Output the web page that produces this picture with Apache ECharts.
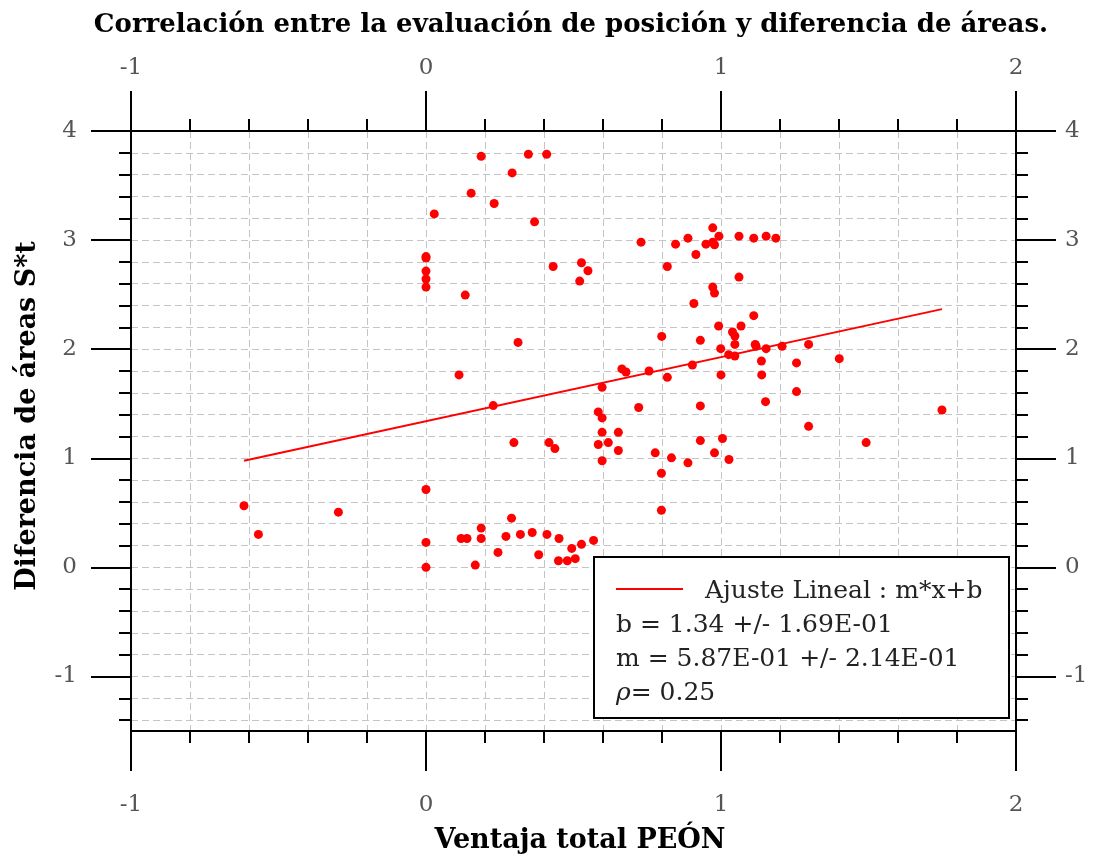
<!DOCTYPE html>
<html>
<head>
<meta charset="utf-8">
<script src="https://cdn.jsdelivr.net/npm/echarts@6/dist/echarts.min.js"></script>
<style>html,body{margin:0;padding:0;background:#fff}#c{width:1096px;height:857px}</style>
</head>
<body>
<div id="c"></div>
<script>
const titleText = 'Correlación entre la evaluación de posición y diferencia de áreas.';
const xName = 'Ventaja total PEÓN';
const yName = 'Diferencia de áreas S*t';

const xValues = [
  0.187, 0.347, 0.409, 0.292, 0.153, 0.231, 0.028, 0.368, 0, 0,
  0, 0, 0, 0.133, 0.431, 0.527, 0.549, 0.521, 0.312, 0.729,
  0.846, 0.888, 0.972, 0.993, 0.949, 0.972, 0.978, 0.915, 1.061, 1.111,
  1.153, 1.186, 0.818, 1.061, 0.972, 0.978, 0.908, 1.111, 0.992, 1.039,
  1.047, 1.068, 1.047, 1.116, 1.119, 1.153, 1.207, 1.297, 0.799, 0.930,
  0.999, 1.026, 1.047, 1.137, 1.256, 1.401, 1.749, 0.903, 0.756, 0.664,
  0.678, 0.597, 0.818, 1.000, 1.138, 1.256, 1.151, 1.297, 1.492, 0.930,
  0.721, 0.584, 0.597, 0.597, 0.652, 0.618, 0.584, 0.652, 0.777, 0.930,
  1.005, 0.978, 0.832, 1.027, 0.888, 0.597, 0.798, 0.798, -0.617, -0.568,
  -0.297, 0, 0, 0, 0.112, 0.228, 0.298, 0.417, 0.437, 0.290,
  0.187, 0.119, 0.139, 0.187, 0.271, 0.320, 0.360, 0.410, 0.451, 0.244,
  0.167, 0.382, 0.449, 0.479, 0.506, 0.494, 0.527, 0.568
];
const yValues = [
  3.768, 3.787, 3.787, 3.616, 3.430, 3.335, 3.240, 3.167, 2.849, 2.835,
  2.716, 2.643, 2.569, 2.496, 2.758, 2.792, 2.719, 2.624, 2.062, 2.981,
  2.963, 3.018, 3.112, 3.036, 2.963, 2.981, 2.957, 2.868, 3.036, 3.018,
  3.036, 3.018, 2.758, 2.661, 2.569, 2.514, 2.419, 2.307, 2.212, 2.157,
  2.121, 2.212, 2.044, 2.044, 2.026, 2.005, 2.026, 2.044, 2.117, 2.081,
  2.005, 1.950, 1.938, 1.892, 1.874, 1.913, 1.443, 1.855, 1.800, 1.819,
  1.791, 1.650, 1.742, 1.764, 1.764, 1.611, 1.519, 1.293, 1.144, 1.480,
  1.465, 1.425, 1.370, 1.238, 1.238, 1.144, 1.126, 1.071, 1.050, 1.162,
  1.181, 1.050, 1.004, 0.989, 0.958, 0.977, 0.863, 0.524, 0.565, 0.302,
  0.506, 0.714, 0.229, 0, 1.764, 1.483, 1.144, 1.144, 1.089, 0.451,
  0.360, 0.265, 0.265, 0.265, 0.284, 0.302, 0.320, 0.302, 0.265, 0.137,
  0.021, 0.116, 0.061, 0.061, 0.080, 0.174, 0.211, 0.247
];

const fitX = [-0.617, 1.749];
const fitY = [0.978, 2.367];

const xMin = -1, xMax = 2;
const yMin = -1.5, yMax = 4;
const yMajorTicks = [-1, 0, 1, 2, 3, 4];
const yMinorTicks = [-1.4, -1.2, -1, -0.8, -0.6, -0.4, -0.2, 0, 0.2, 0.4, 0.6, 0.8, 1, 1.2, 1.4, 1.6, 1.8, 2, 2.2, 2.4, 2.6, 2.8, 3, 3.2, 3.4, 3.6, 3.8, 4];

const legendTitle = 'Ajuste Lineal : m*x+b';
const legendLines = ['b = 1.34 +/- 1.69E-01', 'm = 5.87E-01 +/- 2.14E-01'];
const rhoText = '= 0.25';

const scatterData = xValues.map((x, i) => [x, yValues[i]]);
const fitData = fitX.map((x, i) => [x, fitY[i]]);

const serif = 'DejaVu Serif';
const tickLabelStyle = { fontFamily: serif, fontSize: 23, color: '#555' };
const gridLine = { show: true, lineStyle: { color: '#c4c4c4', width: 1, type: [7, 4] } };
const axisLineStyle = { show: true, onZero: false, lineStyle: { color: '#000', width: 2 } };

function xAxisDef(pos, showSplit) {
  return {
    type: 'value', position: pos, min: xMin, max: xMax, interval: 1,
    axisLine: axisLineStyle,
    axisTick: { show: true, inside: false, length: 40, lineStyle: { color: '#000', width: 2 } },
    minorTick: { show: true, splitNumber: 5, length: 12, lineStyle: { color: '#000', width: 2 } },
    axisLabel: Object.assign({ show: true, margin: pos === 'bottom' ? 63 : 51 }, tickLabelStyle),
    splitLine: showSplit ? gridLine : { show: false },
    minorSplitLine: showSplit ? gridLine : { show: false }
  };
}
function yMajorDef(pos) {
  return {
    type: 'value', position: pos, min: yMin, max: yMax,
    axisLine: axisLineStyle,
    axisTick: { show: true, inside: false, length: 40, customValues: yMajorTicks, lineStyle: { color: '#000', width: 2 } },
    axisLabel: Object.assign({ show: true, customValues: yMajorTicks, margin: pos === 'left' ? 54 : 49 }, tickLabelStyle),
    splitLine: { show: false }
  };
}
function yMinorDef(pos, showSplit) {
  return {
    type: 'value', position: pos, min: yMin, max: yMax,
    axisLine: axisLineStyle,
    axisTick: { show: true, inside: false, length: 12, customValues: yMinorTicks, lineStyle: { color: '#000', width: 2 } },
    axisLabel: { show: false },
    splitLine: showSplit ? gridLine : { show: false }
  };
}

const legendFont = { fontFamily: serif, fontSize: 25, fill: '#222', align: 'left', verticalAlign: 'middle' };

const chart = echarts.init(document.getElementById('c'), null, { renderer: 'canvas' });
chart.setOption({
  animation: false,
  backgroundColor: '#fff',
  title: {
    text: titleText, left: 566, top: 7, textAlign: 'center',
    textStyle: { fontFamily: serif, fontWeight: 'bold', fontSize: 26, color: '#000' }
  },
  grid: { left: 131, right: 80, top: 131, bottom: 126, containLabel: false },
  xAxis: [xAxisDef('bottom', true), xAxisDef('top', false)],
  yAxis: [yMajorDef('left'), yMinorDef('left', true), yMajorDef('right'), yMinorDef('right', false)],
  series: [
    {
      type: 'line', name: legendTitle, data: fitData, xAxisIndex: 0, yAxisIndex: 0,
      showSymbol: false, symbol: 'none', lineStyle: { color: '#ff0000', width: 2 }, z: 3
    },
    {
      type: 'scatter', data: scatterData, xAxisIndex: 0, yAxisIndex: 0,
      symbol: 'circle', symbolSize: 9, itemStyle: { color: '#ff0000', opacity: 1 }, z: 4
    }
  ],
  graphic: [
    {
      type: 'text', x: 580, y: 841, z: 100,
      style: Object.assign({ text: xName, fontWeight: 'bold' }, { fontFamily: serif, fontSize: 27, fill: '#000', align: 'center', verticalAlign: 'middle' })
    },
    {
      type: 'text', x: 28, y: 416, rotation: Math.PI / 2, z: 100,
      style: { text: yName, fontFamily: serif, fontWeight: 'bold', fontSize: 27, fill: '#000', align: 'center', verticalAlign: 'middle' }
    },
    { type: 'rect', z: 100, shape: { x: 594, y: 557, width: 415, height: 161 }, style: { fill: '#fff', stroke: '#000', lineWidth: 2 } },
    { type: 'line', z: 101, shape: { x1: 616, y1: 589, x2: 683, y2: 589 }, style: { stroke: '#ff0000', lineWidth: 2 } },
    { type: 'text', z: 101, x: 705, y: 591, style: Object.assign({ text: legendTitle }, legendFont) },
    { type: 'text', z: 101, x: 616, y: 625, style: Object.assign({ text: legendLines[0] }, legendFont) },
    { type: 'text', z: 101, x: 616, y: 659, style: Object.assign({ text: legendLines[1] }, legendFont) },
    {
      type: 'text', z: 101, x: 616, y: 693,
      style: Object.assign({
        text: '{i|ρ}' + rhoText,
        rich: { i: { fontFamily: serif, fontStyle: 'italic', fontSize: 25, fill: '#222' } }
      }, legendFont)
    }
  ]
});
</script>
</body>
</html>
